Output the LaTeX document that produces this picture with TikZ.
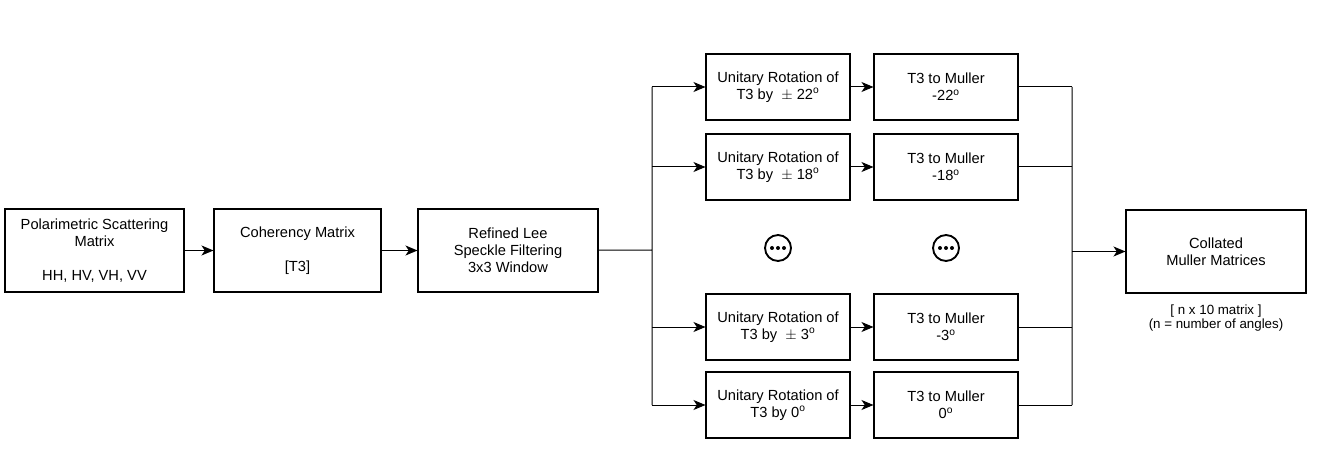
\documentclass[tikz,border=0pt]{standalone}
\usepackage{fontspec}
\setmainfont{Liberation Sans}
\usetikzlibrary{arrows.meta,positioning}
\tikzset{
  block/.style={draw, line width=0.8pt, align=center, inner sep=0pt,
    minimum height=62.25pt, font=\fontsize{11}{12.75}\selectfont},
  stage/.style={block, minimum width=108pt, minimum height=49.5pt},
  more/.style={draw, circle, line width=1.4pt, minimum size=19.5pt, inner sep=0pt},
  link/.style={line width=0.75pt},
  >={Stealth[length=9pt, width=7.5pt, inset=2.5pt]}
}
\newcommand{\dg}{\textsuperscript{o}}
\begin{document}
\begin{tikzpicture}[x=0.75pt, y=-0.75pt]
    \useasboundingbox (0, 0) rectangle (1317, 452);
    % input chain
    \node[block, minimum width=134.25pt] (psm) at (94.5, 250.5)
          {Polarimetric Scattering\\Matrix\\[12.75pt]HH, HV, VH, VV};
    \node[block, minimum width=125.25pt] (coh) at (297.5, 250.5)
          {Coherency Matrix\\[12.75pt]{[T3]}};
    \node[block, minimum width=135pt] (lee) at (508, 250.5)
          {Refined Lee\\Speckle Filtering\\3x3 Window};
    % rotations
    \node[stage] (rot22) at (778, 87) {Unitary Rotation of\\T3 by \ $\pm$ 22\dg};
    \node[stage] (rot18) at (778, 167) {Unitary Rotation of\\T3 by \ $\pm$ 18\dg};
    \node[stage] (rot3) at (778, 327) {Unitary Rotation of\\T3 by \ $\pm$ 3\dg};
    \node[stage] (rot0) at (778, 405) {Unitary Rotation of\\T3 by 0\dg};
    \node[stage] (mul22) at (946, 87) {T3 to Muller\\-22\dg};
    \node[stage] (mul18) at (946, 167) {T3 to Muller\\-18\dg};
    \node[stage] (mul3) at (946, 327) {T3 to Muller\\-3\dg};
    \node[stage] (mul0) at (946, 405) {T3 to Muller\\0\dg};
    \node[more] (moreA) at (778, 248) {};
    \node[more] (moreB) at (946, 248) {};
    \foreach \m in {moreA, moreB}
      \foreach \d in {-4.5, 0, 4.5}
        \fill ([xshift=\d pt]\m.center) circle (1.5pt);
    % output
    \node[block, minimum width=135pt] (col) at (1216, 251.5)
          {Collated\\Muller Matrices};
    \node[below=5pt of col, align=center, font=\fontsize{10}{10.5}\selectfont] (size)
          {[ n x 10 matrix ]\\(n = number of angles)};
    \coordinate (split) at (652, 250);
    \coordinate (merge) at (1072, 251.5);
    \draw[link, ->] (psm) -- (coh);
    \draw[link, ->] (coh) -- (lee);
    \draw[link] (lee) -- (split)
          (split |- rot22) -- (split |- rot0)
          (merge |- mul22) -- (merge |- mul0);
    \draw[link, ->] (split |- rot22) -- (rot22);
    \draw[link, ->] (split |- rot18) -- (rot18);
    \draw[link, ->] (split |- rot3) -- (rot3);
    \draw[link, ->] (split |- rot0) -- (rot0);
    \draw[link, ->] (rot22) -- (mul22);
    \draw[link, ->] (rot18) -- (mul18);
    \draw[link, ->] (rot3) -- (mul3);
    \draw[link, ->] (rot0) -- (mul0);
    \draw[link] (mul22) -- (merge |- mul22)
                (mul18) -- (merge |- mul18)
                (mul3) -- (merge |- mul3)
                (mul0) -- (merge |- mul0);
    \draw[link, ->] (merge) -- (col);
\end{tikzpicture}
\end{document}
